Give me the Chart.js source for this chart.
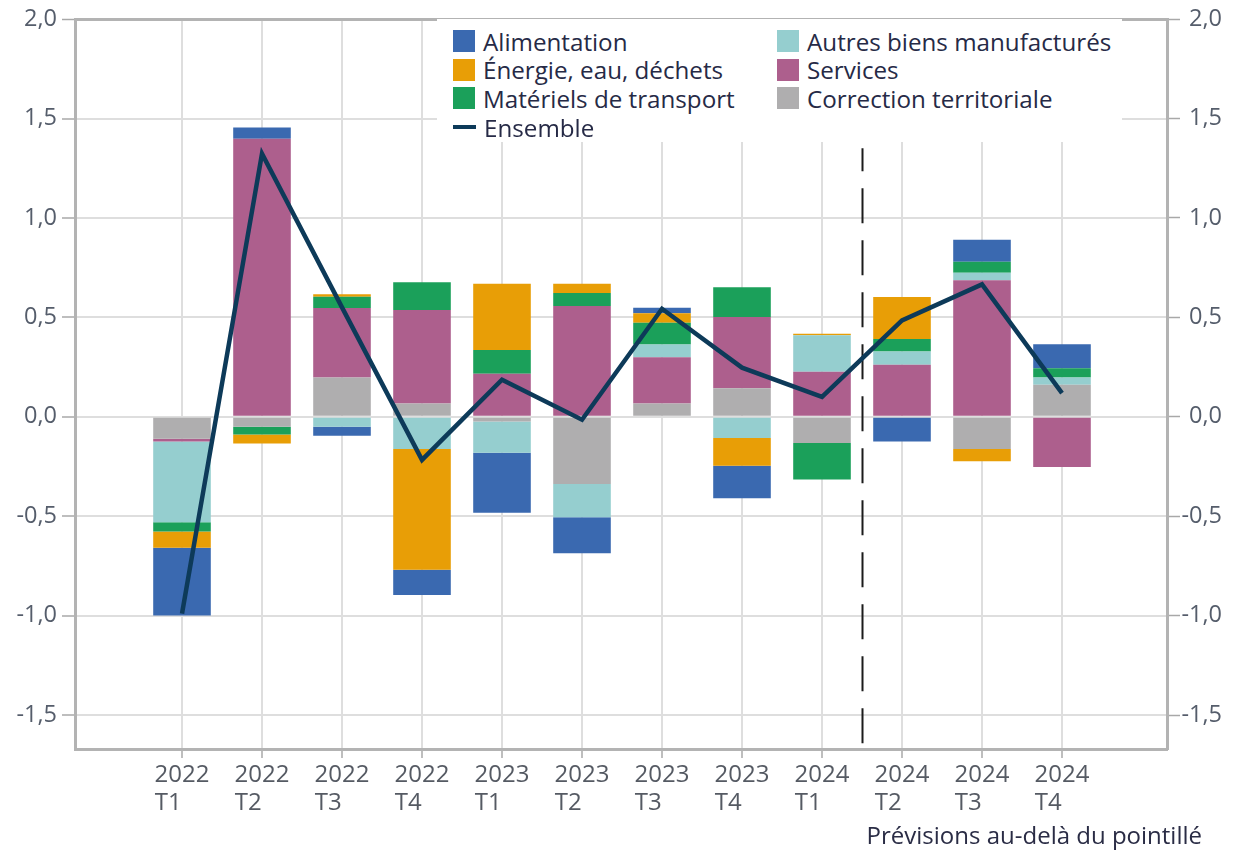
<!DOCTYPE html>
<html>
<head>
<meta charset="utf-8">
<script src="https://cdn.jsdelivr.net/npm/chart.js@4/dist/chart.umd.min.js"></script>
<style>
  html, body { margin: 0; padding: 0; background: #ffffff; }
  #wrap { position: relative; width: 1255px; height: 850px; overflow: hidden; }
  #chart { position: absolute; left: 0; top: 0; }
  #legend { position: absolute; left: 437px; top: 19px; width: 685px; height: 123px; background: #ffffff;
            font-family: 'Open Sans', sans-serif; font-size: 24.2px; color: #262a46; }
  .item { position: absolute; height: 28px; display: flex; align-items: center; white-space: nowrap; }
  .sw { width: 22px; height: 22px; margin-right: 8px; flex: none; }
  .ln { width: 23px; height: 4px; margin-right: 8px; flex: none; }
  #note { position: absolute; right: 53px; top: 819px; line-height: 32px;
          font-family: 'Open Sans', sans-serif; font-size: 24px; color: #2a2c45; white-space: nowrap; }
</style>
</head>
<body>
<div id="wrap">
  <canvas id="chart" width="1255" height="850"></canvas>
  <div id="legend"></div>
  <div id="note">Prévisions au-delà du pointillé</div>
</div>
<script>
// ---- Data ----
const YEAR_LABELS    = ['2022','2022','2022','2022','2023','2023','2023','2023','2024','2024','2024','2024'];
const QUARTER_LABELS = ['T1','T2','T3','T4','T1','T2','T3','T4','T1','T2','T3','T4'];

const correction   = [-0.110, -0.050,  0.197,  0.067, -0.024, -0.338,  0.067,  0.144, -0.132,  0.000, -0.162,  0.161];
const services     = [-0.015,  1.398,  0.350,  0.470,  0.216,  0.557,  0.232,  0.358,  0.226,  0.262,  0.686, -0.253];
const autresBiens  = [-0.405,  0.000, -0.050, -0.162, -0.157, -0.167,  0.065, -0.107,  0.184,  0.066,  0.038,  0.036];
const materiels    = [-0.047, -0.039,  0.057,  0.140,  0.120,  0.065,  0.109,  0.149, -0.184,  0.063,  0.055,  0.047];
const energie      = [-0.082, -0.045,  0.012, -0.607,  0.333,  0.047,  0.047, -0.139,  0.008,  0.211, -0.062,  0.000];
const alimentation = [-0.340,  0.057, -0.045, -0.128, -0.302, -0.182,  0.028, -0.164,  0.000, -0.124,  0.111,  0.121];
const ensemble     = [-0.990,  1.323,  0.550, -0.217,  0.186, -0.015,  0.543,  0.247,  0.100,  0.485,  0.666,  0.119];

const Y_TICK_VALUES = [-1.5, -1.0, -0.5, 0.0, 0.5, 1.0, 1.5, 2.0];
const FORECAST_SPLIT = 8.5;     // between 2024 T1 and 2024 T2
const LEGEND_ORDER = ['Alimentation','Autres biens manufacturés','Énergie, eau, déchets','Services',
                      'Matériels de transport','Correction territoriale','Ensemble'];

// ---- Styling ----
const FONT = "'Open Sans', sans-serif";
const COLORS = {
  alimentation: '#3a69b0',
  autres: '#95cecf',
  energie: '#e89e06',
  services: '#ad5f8d',
  materiels: '#1ba05a',
  correction: '#afaeaf',
  ensemble: '#0d3a59'
};
const GRID = '#dedede';
const FRAME = '#b3b3b3';
const TICK_TEXT = '#555d6b';

const pts = arr => arr.map((v, i) => ({ x: i, y: v }));

const barDs = (label, arr, color) => ({
  type: 'bar', label, data: pts(arr), backgroundColor: color, borderWidth: 0,
  categoryPercentage: 1.0, barPercentage: 0.72, order: 1, stack: 'bars'
});

const datasets = [
  { type: 'line', label: 'Ensemble', data: pts(ensemble), borderColor: COLORS.ensemble,
    backgroundColor: COLORS.ensemble, borderWidth: 4.5, pointRadius: 0, tension: 0,
    order: 0, stack: 'line', borderJoinStyle: 'miter' },
  // stacking order from zero outward
  barDs('Correction territoriale', correction, COLORS.correction),
  barDs('Services', services, COLORS.services),
  barDs('Autres biens manufacturés', autresBiens, COLORS.autres),
  barDs('Matériels de transport', materiels, COLORS.materiels),
  barDs('Énergie, eau, déchets', energie, COLORS.energie),
  barDs('Alimentation', alimentation, COLORS.alimentation)
];

const fmt = v => v.toFixed(1).replace('.', ',').replace('-0,0', '0,0');

const yTicksBuild = s => { s.ticks = Y_TICK_VALUES.map(v => ({ value: v })); };

const forecastLine = {
  id: 'forecastLine',
  beforeDatasetsDraw(chart) {
    const { ctx, chartArea, scales: { x, y } } = chart;
    const px = Math.round(x.getPixelForValue(FORECAST_SPLIT)) + 0.5;
    ctx.save();
    ctx.strokeStyle = '#1b1b1b';
    ctx.lineWidth = 2;
    ctx.setLineDash([35, 17]);
    ctx.lineDashOffset = 12;
    ctx.beginPath();
    ctx.moveTo(px, y.getPixelForValue(1.35));
    ctx.lineTo(px, chartArea.bottom);
    ctx.stroke();
    ctx.restore();
  }
};

const htmlLegend = {
  id: 'htmlLegend',
  afterUpdate(chart) {
    const box = document.getElementById('legend');
    box.innerHTML = '';
    const byLabel = {};
    chart.data.datasets.forEach(d => byLabel[d.label] = d);
    LEGEND_ORDER.forEach((label, k) => {
      const d = byLabel[label];
      const col = k % 2, row = Math.floor(k / 2);
      const item = document.createElement('div');
      item.className = 'item';
      item.style.left = (col === 0 ? 16 : 340) + 'px';
      item.style.top = (8 + row * 28.7) + 'px';
      const sw = document.createElement('span');
      if (d.type === 'line') { sw.className = 'ln'; sw.style.background = d.borderColor; }
      else { sw.className = 'sw'; sw.style.background = d.backgroundColor; }
      const tx = document.createElement('span');
      tx.textContent = label;
      item.appendChild(sw); item.appendChild(tx);
      box.appendChild(item);
    });
  }
};

new Chart(document.getElementById('chart'), {
  data: { datasets },
  options: {
    responsive: false,
    animation: false,
    devicePixelRatio: 1,
    layout: { padding: { top: 17, left: 0, right: 33, bottom: 0 } },
    plugins: { legend: { display: false }, tooltip: { enabled: false } },
    scales: {
      x: {
        type: 'linear', stacked: true, min: -1.3375, max: 12.3125, offset: false,
        afterBuildTicks: s => { s.ticks = QUARTER_LABELS.map((q, i) => ({ value: i })); },
        afterFit: s => { s.height = 101; },
        ticks: {
          autoSkip: false, maxRotation: 0, minRotation: 0, padding: 4, color: '#555a63',
          font: { family: FONT, size: 24, lineHeight: 1.13 },
          callback: v => [YEAR_LABELS[v], QUARTER_LABELS[v] + '\u2007\u2007']
        },
        grid: { offset: false, color: GRID, lineWidth: 2, tickLength: 9, tickColor: '#a8a8a8', tickWidth: 1.5 },
        border: { color: FRAME, width: 3 }
      },
      y: {
        position: 'left', stacked: true, min: -1.671, max: 2.0,
        afterBuildTicks: yTicksBuild,
        afterFit: s => { s.width = 75; },
        ticks: { padding: 5, color: TICK_TEXT, font: { family: FONT, size: 23.5 }, callback: v => fmt(v) },
        grid: {
          color: c => (c.tick && c.tick.value === 2) ? FRAME : GRID,
          lineWidth: c => (c.tick && c.tick.value === 2) ? 3 : 2,
          tickLength: 13, tickColor: '#a8a8a8', tickWidth: 1.5
        },
        border: { color: FRAME, width: 3 }
      },
      y2: {
        position: 'right', min: -1.671, max: 2.0,
        afterBuildTicks: yTicksBuild,
        afterFit: s => { s.width = 55; },
        ticks: { padding: 1, crossAlign: 'far', color: TICK_TEXT, font: { family: FONT, size: 23.5 }, callback: v => fmt(v) },
        grid: { drawOnChartArea: false, tickLength: 13, tickColor: '#a8a8a8', tickWidth: 1.5 },
        border: { color: FRAME, width: 3 }
      }
    }
  },
  plugins: [forecastLine, htmlLegend]
});
</script>
</body>
</html>
